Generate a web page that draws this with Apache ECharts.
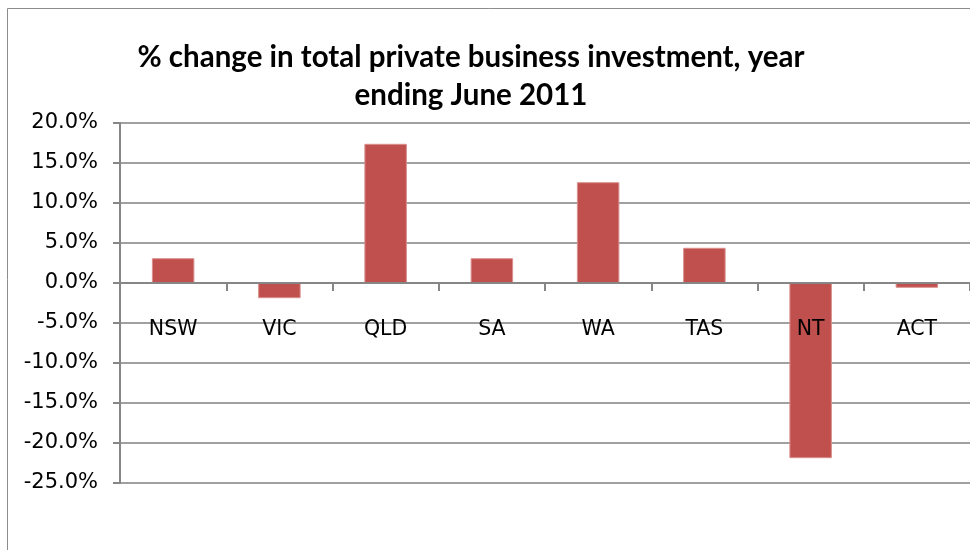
<!DOCTYPE html>
<html>
<head>
<meta charset="utf-8">
<script src="https://cdn.jsdelivr.net/npm/echarts@6/dist/echarts.min.js"></script>
<style>
  html, body { margin: 0; padding: 0; background: #fff; }
  #chart { width: 970px; height: 550px; }
</style>
</head>
<body>
<div id="chart"></div>
<script>
// states and their % change
const categories = ["NSW", "VIC", "QLD", "SA", "WA", "TAS", "NT", "ACT"];
const changeValues = [3.1, -1.9, 17.4, 3.1, 12.6, 4.4, -21.9, -0.6];
const yTicks = [-25, -20, -15, -10, -5, 0, 5, 10, 15, 20];

const chart = echarts.init(document.getElementById("chart"));
chart.setOption({
  animation: false,
  backgroundColor: "#fff",
  title: {
    text: "% change in total private business investment, year\nending June 2011",
    left: 466,
    top: 33,
    textAlign: "center",
    textStyle: {
      fontFamily: "Lato",
      fontWeight: "bold",
      fontSize: 29.5,
      lineHeight: 38,
      color: "#000",
    },
  },
  graphic: [
    {
      type: "rect",
      shape: { x: 7.5, y: 8.5, width: 1000, height: 600 },
      style: { fill: "none", stroke: "#8c8c8c", lineWidth: 1 },
      silent: true,
    },
  ],
  grid: {
    left: 120,
    right: -3,
    top: 123,
    bottom: 67,
  },
  xAxis: {
    type: "category",
    data: categories,
    z: 10,
    axisLine: { onZero: true, lineStyle: { color: "#868686", width: 2 } },
    axisTick: { show: true, length: 8, lineStyle: { color: "#868686", width: 2 } },
    axisLabel: {
      // labels sit just under the zero line, like the Excel original
      margin: -164,
      fontFamily: "DejaVu Sans",
      fontSize: 20.5,
      color: "#000",
    },
    splitLine: { show: false },
  },
  yAxis: {
    type: "value",
    min: yTicks[0],
    max: yTicks[yTicks.length - 1],
    interval: 5,
    axisLine: { show: true, lineStyle: { color: "#868686", width: 2 } },
    axisTick: { show: true, length: 7, lineStyle: { color: "#868686", width: 2 } },
    axisLabel: {
      margin: 22,
      fontFamily: "DejaVu Sans",
      fontSize: 21,
      color: "#000",
      formatter: (v) => v.toFixed(1) + "%",
    },
    splitLine: { show: true, lineStyle: { color: "#a0a0a0", width: 2 } },
  },
  series: [
    {
      type: "bar",
      data: changeValues,
      barWidth: "40%",
      itemStyle: {
        color: "#c0504d",
        borderColor: "#d98f8d",
        borderWidth: 1,
      },
    },
  ],
});
</script>
</body>
</html>
